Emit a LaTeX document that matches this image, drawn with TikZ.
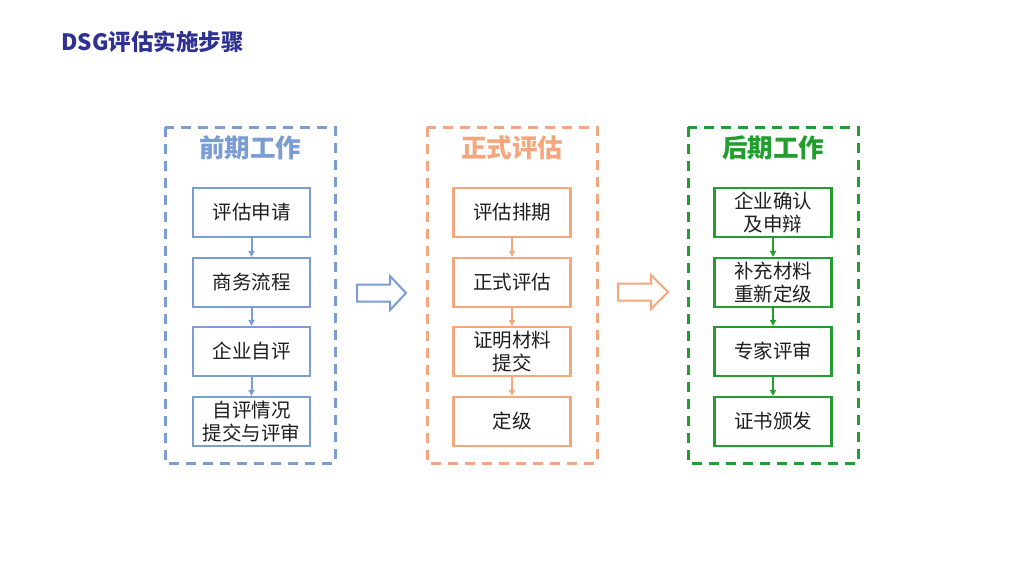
\documentclass[tikz,border=0pt]{standalone}
\usepackage{fontspec}
\setmainfont{Noto Sans CJK SC}
\newfontfamily\cjk{Noto Sans CJK SC}
\usetikzlibrary{arrows.meta}
\definecolor{cblue}{RGB}{124,157,211}
\definecolor{corange}{RGB}{244,167,125}
\definecolor{cgreen}{RGB}{34,158,46}
\definecolor{ctitle}{RGB}{46,49,146}
\definecolor{ctext}{RGB}{30,30,30}
\tikzset{
  group/.style={draw=#1, line width=3pt, dash pattern=on 10pt off 7pt},
  stepbox/.style={draw=#1, line width=2.2pt, minimum width=117pt, minimum height=49pt, inner sep=0pt, align=center, text=ctext, font=\cjk\fontsize{19.5}{23}\selectfont},
  flow/.style={draw=#1, line width=2pt, -{Triangle[length=6pt,width=6pt]}},
  gtitle/.style={text=#1, font=\cjk\bfseries\fontsize{25.5}{30}\selectfont},
  hollow/.style={draw=#1, line width=2pt, fill=white}
}
\begin{document}
\begin{tikzpicture}[x=1pt,y=-1pt]
\useasboundingbox[fill=white] (0,0) rectangle (1024,576);
\node[anchor=west, text=ctitle, font=\cjk\bfseries\fontsize{22.5}{26}\selectfont] (title) at (58,42) {DSG评估实施步骤};
% groups
\draw[group=cblue] (165,127) rectangle (335,463);
\draw[group=corange] (427,127) rectangle (597,463);
\draw[group=cgreen] (688,127) rectangle (858,463);
\node[gtitle=cblue] (t1) at (250,148) {前期工作};
\node[gtitle=corange] (t2) at (512,148) {正式评估};
\node[gtitle=cgreen] (t3) at (773,148) {后期工作};
% left column
\node[stepbox=cblue] (a1) at (251.5,212.5) {评估申请};
\node[stepbox=cblue] (a2) at (251.5,282.5) {商务流程};
\node[stepbox=cblue] (a3) at (251.5,351.5) {企业自评};
\node[stepbox=cblue] (a4) at (251.5,421.5) {自评情况\\提交与评审};
\draw[flow=cblue] (a1) -- (a2);
\draw[flow=cblue] (a2) -- (a3);
\draw[flow=cblue] (a3) -- (a4);
% middle column
\node[stepbox=corange] (b1) at (512,212.5) {评估排期};
\node[stepbox=corange] (b2) at (512,282.5) {正式评估};
\node[stepbox=corange] (b3) at (512,351.5) {证明材料\\提交};
\node[stepbox=corange] (b4) at (512,421.5) {定级};
\draw[flow=corange] (b1) -- (b2);
\draw[flow=corange] (b2) -- (b3);
\draw[flow=corange] (b3) -- (b4);
% right column
\node[stepbox=cgreen] (c1) at (773,212.5) {企业确认\\及申辩};
\node[stepbox=cgreen] (c2) at (773,282.5) {补充材料\\重新定级};
\node[stepbox=cgreen] (c3) at (773,351.5) {专家评审};
\node[stepbox=cgreen] (c4) at (773,421.5) {证书颁发};
\draw[flow=cgreen] (c1) -- (c2);
\draw[flow=cgreen] (c2) -- (c3);
\draw[flow=cgreen] (c3) -- (c4);
% hollow arrows
\draw[hollow=cblue] (357,284.5) -- (390,284.5) -- (390,276) -- (406,293) -- (390,310) -- (390,301.5) -- (357,301.5) -- cycle;
\draw[hollow=corange] (618,283.5) -- (651,283.5) -- (651,275) -- (668,292) -- (651,309) -- (651,300.5) -- (618,300.5) -- cycle;
\end{tikzpicture}
\end{document}
